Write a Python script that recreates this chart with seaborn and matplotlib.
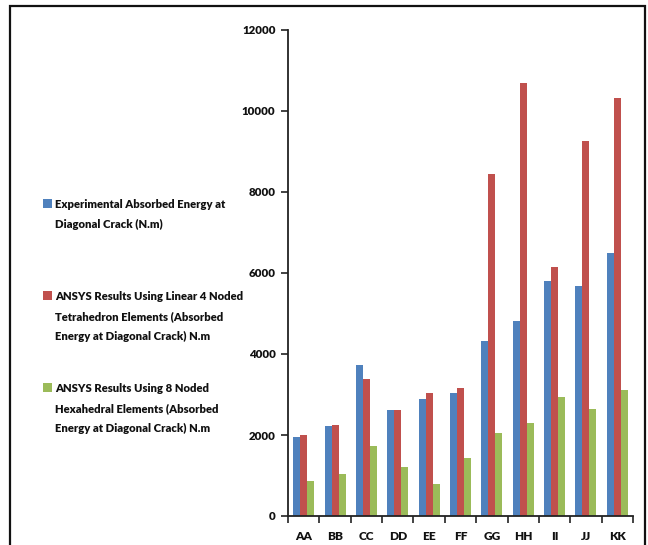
import matplotlib
matplotlib.use("Agg")
import matplotlib.pyplot as plt
from matplotlib.patches import Patch, Rectangle
import seaborn as sns
import pandas as pd
import numpy as np

# Specimen labels and absorbed energies (N.m)
specimens = ["AA", "BB", "CC", "DD", "EE", "FF", "GG", "HH", "II", "JJ", "KK"]
experimental = [1950, 2220, 3720, 2610, 2880, 3040, 4330, 4820, 5800, 5680, 6490]
ansys_tetra = [2000, 2250, 3380, 2610, 3040, 3160, 8440, 10680, 6150, 9250, 10310]
ansys_hexa = [870, 1030, 1740, 1220, 800, 1430, 2050, 2290, 2930, 2650, 3110]

series_names = [
    "Experimental Absorbed Energy at\nDiagonal Crack (N.m)\n",
    "ANSYS Results Using Linear 4 Noded\nTetrahedron Elements (Absorbed\nEnergy at Diagonal Crack) N.m",
    "ANSYS Results Using 8 Noded\nHexahedral Elements (Absorbed\nEnergy at Diagonal Crack) N.m",
]
colors = ["#4F81BD", "#C0504D", "#9BBB59"]
yticks = [0, 2000, 4000, 6000, 8000, 10000, 12000]

df = pd.DataFrame({
    "specimen": specimens * 3,
    "energy": experimental + ansys_tetra + ansys_hexa,
    "series": np.repeat(series_names, len(specimens)),
})

sns.set_theme(style="white")
font = ["Lato", "DejaVu Sans"]
plt.rcParams["font.family"] = font

fig = plt.figure(figsize=(6.48, 5.45), dpi=100)
ax = fig.add_axes([288 / 648, 29 / 545, 345 / 648, 486 / 545])

sns.barplot(data=df, x="specimen", y="energy", hue="series", hue_order=series_names,
            palette=colors, saturation=1, width=0.667, gap=0, dodge=True, ax=ax,
            edgecolor="none", legend=False, errorbar=None)

ax.set_ylim(0, 12000)
ax.set_xlim(-0.5, len(specimens) - 0.5)
ax.set_yticks(yticks)
ax.set_yticklabels([str(v) for v in yticks], fontsize=8.3, fontweight="heavy")
ax.set_xlabel("")
ax.set_ylabel("")
ax.tick_params(axis="y", direction="out", length=5, width=1.2, color="#222222",
               pad=4, left=True, labelcolor="#111111")
ax.tick_params(axis="x", which="major", length=0, pad=11, labelsize=8.6, labelcolor="#111111")
for t in ax.get_xticklabels():
    t.set_fontweight("heavy")
ax.set_xticks(np.arange(-0.5, len(specimens)), minor=True)
ax.tick_params(axis="x", which="minor", direction="out", length=5, width=1.2,
               color="#222222", bottom=True)

for side in ["top", "right"]:
    ax.spines[side].set_visible(False)
for side in ["left", "bottom"]:
    ax.spines[side].set_color("#222222")
    ax.spines[side].set_linewidth(1.3)

# Legend on the left side of the figure
handles = [Patch(facecolor=c, edgecolor="none") for c in colors]
leg = fig.legend(handles, series_names, loc="upper left",
                 bbox_to_anchor=(33 / 648, 1 - 189 / 545), frameon=False,
                 prop={"family": font, "weight": "heavy", "size": 8.1},
                 handlelength=0.8, handleheight=0.8, handletextpad=0.25,
                 labelspacing=3.65)
for t in leg.get_texts():
    t.set_linespacing(2.0)
    t.set_color("#111111")
for col in leg._legend_handle_box.get_children():
    for row in col.get_children():
        row.align = "top"

# Outer frame around the chart area
fig.add_artist(Rectangle((10 / 648, -0.05), 635 / 648, 1.05 - 6 / 545,
                         transform=fig.transFigure, fill=False,
                         edgecolor="#111111", linewidth=1.6, clip_on=False))

fig.savefig("out.png", dpi=100)
